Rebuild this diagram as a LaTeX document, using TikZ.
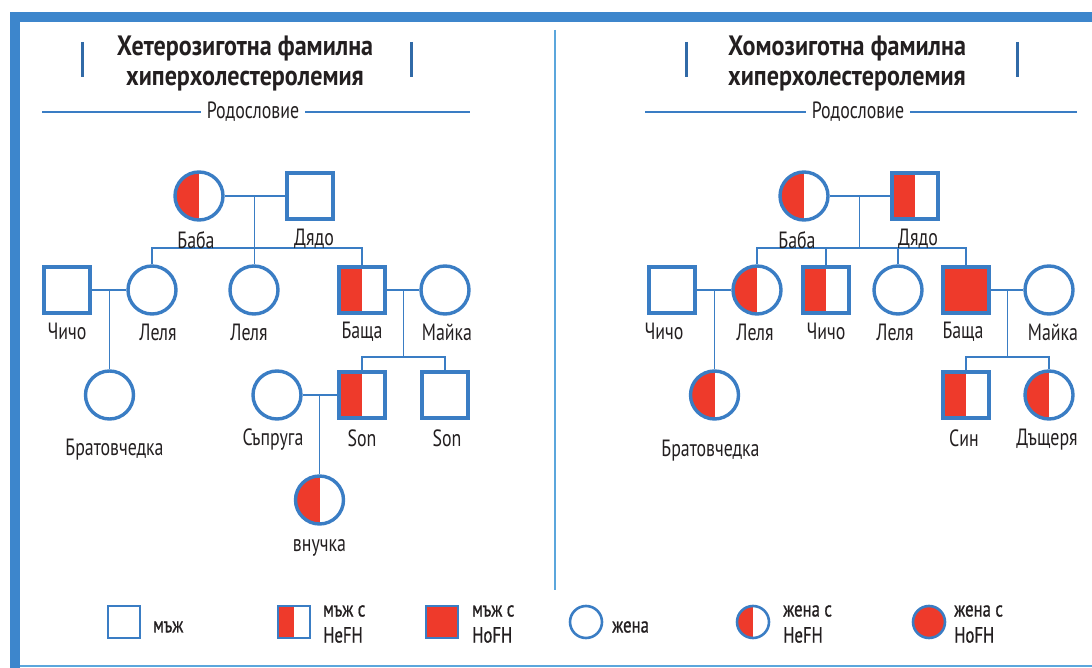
\documentclass[tikz,border=0pt]{standalone}
\usepackage{fontspec}
\setmainfont{PT Sans}[FakeStretch=0.76]
\newfontfamily\headfont{PT Sans}[FakeStretch=0.86]
\newfontfamily\keyfont{PT Sans}[FakeStretch=0.76, FakeBold=0.8]
\usepackage{xcolor}
\usepackage{tikz}
\usetikzlibrary{calc}
\definecolor{fhblue}{HTML}{3A7DC4}
\definecolor{fhred}{HTML}{EE3A2B}
\definecolor{fhframe}{HTML}{3D86CC}
\definecolor{fhline}{HTML}{5BA6DC}
\definecolor{fhtext}{HTML}{231F20}

\begin{document}
\begin{tikzpicture}[x=1pt,y=-1pt,
  every node/.style={text=fhtext},
  male/.style={rectangle, draw=fhblue, line width=3.4pt, minimum size=46pt, inner sep=0pt, fill=white},
  female/.style={circle, draw=fhblue, line width=3.4pt, minimum size=48pt, inner sep=0pt, fill=white},
  hetero/.style={path picture={\fill[fhred] (path picture bounding box.south west) rectangle (path picture bounding box.north);}},
  homo/.style={fill=fhred},
  small/.style={minimum size=32pt, line width=2.6pt},
  link/.style={draw=fhblue, line width=1.8pt},
  lbl/.style={font=\fontsize{23.5}{24}\selectfont, inner sep=0pt},
  key/.style={font=\keyfont\fontsize{22}{26}\selectfont, inner sep=0pt, anchor=west, align=left},
  heading/.style={font=\headfont\fontsize{28}{30}\selectfont\bfseries, align=center},
  bar/.style={draw=fhblue!85!black, line width=3pt}
]
\useasboundingbox (0,0) rectangle (1092,668);

% frame
\draw[fhframe, line width=10pt] (15,668) -- (15,17) -- (1092,17);
\draw[fhline, line width=2pt] (20,666) -- (1092,666);
\draw[fhline, line width=2pt] (555,30) -- (555,590);

% headings
\node[heading] (title1) at (245,64) {Хетерозиготна фамилна\\хиперхолестеролемия};
\node[heading] (title2) at (847,64) {Хомозиготна фамилна\\хиперхолестеролемия};
\draw[bar] (82,42) -- (82,77);
\draw[bar] (411,42) -- (411,77);
\draw[bar] (686,42) -- (686,77);
\draw[bar] (1017,42) -- (1017,77);
\node[lbl, inner sep=6pt] (rod1) at (253,112) {Родословие};
\node[lbl, inner sep=6pt] (rod2) at (858,112) {Родословие};
\draw[fhblue, line width=1.5pt] (42,112) -- (rod1.west);
\draw[fhblue, line width=1.5pt] (rod1.east) -- (470,112);
\draw[fhblue, line width=1.5pt] (645,112) -- (rod2.west);
\draw[fhblue, line width=1.5pt] (rod2.east) -- (1077,112);

% heterozygous pedigree
\node[female, hetero] (baba1) at (199,196) {};
\node[male] (dyado1) at (310,196) {};
\coordinate (m1) at ($(baba1)!0.5!(dyado1)$);
\coordinate (s1) at (0,248);
\node[male] (chicho1) at (67,290) {};
\node[female] (lelya1a) at (152,290) {};
\node[female] (lelya1b) at (254,290) {};
\node[male, hetero] (bashta1) at (362,290) {};
\node[female] (mayka1) at (445,290) {};
\coordinate (m3) at ($(chicho1)!0.5!(lelya1a)$);
\coordinate (m4) at ($(bashta1)!0.5!(mayka1)$);
\coordinate (s3) at (0,357);
\node[female] (bratov1) at (m3 |- 0,395) {};
\node[female] (saprugа) at (277,395) {};
\node[male, hetero] (son1a) at (362,395) {};
\node[male] (son1b) at (445,395) {};
\coordinate (m5) at ($(saprugа)!0.5!(son1a)$);
\node[female, hetero] (vnuchka) at (m5 |- 0,500) {};

\draw[link] (baba1) -- (dyado1);
\draw[link] (m1) -- (m1 |- lelya1b.north);
\draw[link] (lelya1a.north) -- (lelya1a |- s1) -- (bashta1 |- s1) -- (bashta1.north);
\draw[link] (chicho1) -- (lelya1a);
\draw[link] (m3) -- (bratov1.north);
\draw[link] (bashta1) -- (mayka1);
\draw[link] (m4) -- (m4 |- s3);
\draw[link] (son1a.north) -- (son1a |- s3) -- (son1b |- s3) -- (son1b.north);
\draw[link] (saprugа) -- (son1a);
\draw[link] (m5) -- (vnuchka.north);

\node[lbl] at ([xshift=-3pt,yshift=-18pt]baba1.south) {Баба};
\node[lbl] at ([xshift=4pt,yshift=-18pt]dyado1.south) {Дядо};
\node[lbl] at ([yshift=-17pt]chicho1.south) {Чичо};
\node[lbl] at ([xshift=6pt,yshift=-17pt]lelya1a.south) {Леля};
\node[lbl] at ([xshift=-5pt,yshift=-17pt]lelya1b.south) {Леля};
\node[lbl] at ([yshift=-17pt]bashta1.south) {Баща};
\node[lbl] at ([xshift=2pt,yshift=-17pt]mayka1.south) {Майка};
\node[lbl] at ([xshift=5pt,yshift=-29pt]bratov1.south) {Братовчедка};
\node[lbl] at ([xshift=-4pt,yshift=-19pt]saprugа.south) {Съпруга};
\node[lbl] at ([yshift=-19pt]son1a.south) {Son};
\node[lbl] at ([xshift=2pt,yshift=-19pt]son1b.south) {Son};
\node[lbl] at ([yshift=-22pt]vnuchka.south) {внучка};

% homozygous pedigree
\node[female, hetero] (baba2) at (804,196) {};
\node[male, hetero] (dyado2) at (915,196) {};
\coordinate (m2) at ($(baba2)!0.5!(dyado2)$);
\coordinate (s2) at (0,248);
\node[male] (chicho2a) at (672,290) {};
\node[female, hetero] (lelya2a) at (757,290) {};
\node[male, hetero] (chicho2b) at (826,290) {};
\node[female] (lelya2b) at (898,290) {};
\node[male, homo] (bashta2) at (966,290) {};
\node[female] (mayka2) at (1049,290) {};
\coordinate (m6) at ($(chicho2a)!0.5!(lelya2a)$);
\coordinate (m7) at ($(bashta2)!0.5!(mayka2)$);
\coordinate (s4) at (0,357);
\node[female, hetero] (bratov2) at (m6 |- 0,395) {};
\node[male, hetero] (sin2) at (966,395) {};
\node[female, hetero] (dashterya) at (1049,395) {};

\draw[link] (baba2) -- (dyado2);
\draw[link] (m2) -- (m2 |- s2);
\draw[link] (lelya2a.north) -- (lelya2a |- s2) -- (bashta2 |- s2) -- (bashta2.north);
\draw[link] (chicho2b.north) -- (chicho2b |- s2);
\draw[link] (lelya2b.north) -- (lelya2b |- s2);
\draw[link] (chicho2a) -- (lelya2a);
\draw[link] (m6) -- (bratov2.north);
\draw[link] (bashta2) -- (mayka2);
\draw[link] (m7) -- (m7 |- s4);
\draw[link] (sin2.north) -- (sin2 |- s4) -- (dashterya |- s4) -- (dashterya.north);

\node[lbl] at ([xshift=-7pt,yshift=-18pt]baba2.south) {Баба};
\node[lbl] at ([xshift=3pt,yshift=-18pt]dyado2.south) {Дядо};
\node[lbl] at ([xshift=-8pt,yshift=-17pt]chicho2a.south) {Чичо};
\node[lbl] at ([xshift=-2pt,yshift=-17pt]lelya2a.south) {Леля};
\node[lbl] at ([yshift=-17pt]chicho2b.south) {Чичо};
\node[lbl] at ([xshift=-3pt,yshift=-17pt]lelya2b.south) {Леля};
\node[lbl] at ([xshift=-3pt,yshift=-17pt]bashta2.south) {Баща};
\node[lbl] at ([xshift=4pt,yshift=-17pt]mayka2.south) {Майка};
\node[lbl] at ([xshift=-4pt,yshift=-30pt]bratov2.south) {Братовчедка};
\node[lbl] at ([xshift=-2pt,yshift=-19pt]sin2.south) {Син};
\node[lbl] at ([xshift=-2pt,yshift=-19pt]dashterya.south) {Дъщеря};

% legend
\node[male, small] (key1) at (124,622) {};
\node[key] at (153,627) {мъж};
\node[male, small, hetero] (key2) at (294,622) {};
\node[key] at (323,624) {мъж с\\HeFH};
\node[male, small, homo] (key3) at (442,622) {};
\node[key] at (472,624) {мъж с\\HoFH};
\node[female, small] (key4) at (586,622) {};
\node[key] at (612,627) {жена};
\node[female, small, hetero] (key5) at (753,622) {};
\node[key] at (783,624) {жена с\\HeFH};
\node[female, small, homo] (key6) at (929,622) {};
\node[key] at (954,624) {жена с\\HoFH};
\end{tikzpicture}
\end{document}
